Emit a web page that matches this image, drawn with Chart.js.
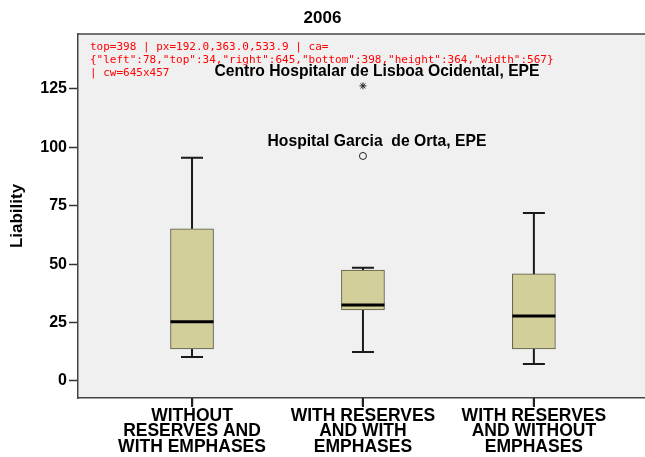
<!DOCTYPE html>
<html>
<head>
<meta charset="utf-8">
<script src="https://cdn.jsdelivr.net/npm/chart.js@4.4.0/dist/chart.umd.min.js"></script>
<style>
    body { margin: 0; background: #ffffff; }
</style>
</head>
<body>
<canvas id="box-chart" width="645" height="457"></canvas>
<div id="dbg" style="position:absolute;left:90px;top:40px;width:300px;font:11px monospace;color:red"></div>
<script>
//////////////////////////////// Daten /////////////////////////////////////////

var groups = [                       // Kategorien (mehrzeilig)
    ["WITHOUT", "RESERVES AND", "WITH EMPHASES"],
    ["WITH RESERVES", "AND WITH", "EMPHASES"],
    ["WITH RESERVES", "AND WITHOUT", "EMPHASES"]
];
var whiskerLow  = [10.3, 12.4, 7.3];
var quart1      = [13.7, 30.4, 13.7];
var median      = [25.3, 32.5, 27.8];
var quart3      = [65.1, 47.5, 45.8];
var whiskerHigh = [95.5, 48.4, 71.9];

var outlierGroup = [1, 1];
var outlierValue = [126.3, 96.3];
var outlierStyle = ["star", "circle"];
var outlierName  = ["Centro Hospitalar de Lisboa Ocidental, EPE", "Hospital Garcia  de Orta, EPE"];

var yTicks = [0, 25, 50, 75, 100, 125];

var fontFam = "'Liberation Sans', Arial, sans-serif";
var dbgInfo = [];

//////////////////////////////// Plugin fuer Whisker, Median, Rahmen ////////////

var boxPlugin = {
    id: 'boxPlugin',
    beforeDraw: function(chart) {           // Hintergrund der Plotflaeche
        var a = chart.chartArea, ctx = chart.ctx;
        ctx.save();
        ctx.fillStyle = '#f0f0f0';
        ctx.fillRect(a.left, a.top, a.right - a.left, a.bottom - a.top);
        ctx.strokeStyle = '#444444';
        ctx.lineWidth = 1.5;
        ctx.beginPath();
        ctx.moveTo(a.left, a.top);
        ctx.lineTo(a.right, a.top);
        ctx.stroke();
        ctx.restore();
    },
    afterDatasetsDraw: function(chart) {
        var ctx = chart.ctx;
        var xs = chart.scales.x, ys = chart.scales.y;
        ctx.save();
        for (var i = 0; i < groups.length; i++) {
            var x = xs.getPixelForValue(i);
            var yLo = ys.getPixelForValue(whiskerLow[i]);
            var yQ1 = ys.getPixelForValue(quart1[i]);
            var yQ3 = ys.getPixelForValue(quart3[i]);
            var yHi = ys.getPixelForValue(whiskerHigh[i]);
            var yMed = ys.getPixelForValue(median[i]);
            ctx.strokeStyle = '#1a1a1a';
            ctx.lineWidth = 2;
            ctx.beginPath();
            ctx.moveTo(x, yQ3); ctx.lineTo(x, yHi);
            ctx.moveTo(x - 11, yHi); ctx.lineTo(x + 11, yHi);
            ctx.moveTo(x, yQ1); ctx.lineTo(x, yLo);
            ctx.moveTo(x - 11, yLo); ctx.lineTo(x + 11, yLo);
            ctx.stroke();
            ctx.lineWidth = 3;
            ctx.strokeStyle = '#000000';
            ctx.beginPath();
            ctx.moveTo(x - 21.5, yMed); ctx.lineTo(x + 21.5, yMed);
            ctx.stroke();
        }
        // Beschriftung der Ausreisser
        ctx.fillStyle = '#000000';
        ctx.font = 'bold 15.7px ' + fontFam;
        ctx.textAlign = 'center';
        ctx.textBaseline = 'middle';
        for (var j = 0; j < outlierName.length; j++) {
            var px = xs.getPixelForValue(outlierGroup[j]);
            var py = ys.getPixelForValue(outlierValue[j]);
            ctx.fillText(outlierName[j], px + 14, py - 14);
        }
        ctx.restore();
    },
    afterDraw: function(chart) {            // Teilstriche der x-Achse
        var ctx = chart.ctx, xs = chart.scales.x;
        ctx.save();
        ctx.setTransform(1, 0, 0, 1, 0, 0);
        ctx.globalAlpha = 1;
        ctx.globalCompositeOperation = 'source-over';
        ctx.setLineDash([]);
        ctx.strokeStyle = '#222222';
        ctx.lineWidth = 2;
        ctx.beginPath();
        for (var i = 0; i < groups.length; i++) {
            var x = Math.round(xs.getPixelForValue(i));
            ctx.moveTo(x, xs.top);
            ctx.lineTo(x, xs.top + 9);
        }
        ctx.stroke();
        ctx.restore();
        dbgInfo = ['top=' + xs.top, 'px=' + [0, 1, 2].map(function(v) { return xs.getPixelForValue(v).toFixed(1); }).join(','),
                   'ca=' + JSON.stringify(chart.chartArea), 'cw=' + chart.canvas.width + 'x' + chart.canvas.height];
    }
};

//////////////////////////////// Diagramm ////////////////////////////////////////

var boxChart = new Chart(document.getElementById("box-chart"), {
    type: 'bar',
    data: {
        datasets: [{
            type: 'bar',
            data: quart1.map(function(q, i) { return { x: i, y: [q, quart3[i]] }; }),
            backgroundColor: '#d3cf9b',
            borderColor: '#55553f',
            borderWidth: 1,
            borderSkipped: false,
            barThickness: 43
        }, {
            type: 'line',
            showLine: false,
            data: outlierValue.map(function(v, i) { return { x: outlierGroup[i], y: v }; }),
            pointStyle: outlierStyle,
            pointRadius: 3.5,
            pointBorderColor: '#222222',
            pointBackgroundColor: 'rgba(0,0,0,0)',
            pointBorderWidth: 1
        }]
    },
    options: {
        responsive: false,
        animation: false,
        layout: { padding: 0, autoPadding: false },
        plugins: {
            legend: { display: false },
            tooltip: { enabled: false },
            title: {
                display: true,
                text: '2006',
                color: '#000000',
                font: { family: fontFam, size: 17, weight: 'bold' },
                padding: { top: 8, bottom: 5.6 }
            }
        },
        scales: {
            x: {
                type: 'linear',
                offset: false,
                min: -0.667,
                max: 2.65,
                afterBuildTicks: function(scale) {
                    scale.ticks = groups.map(function(g, i) { return { value: i }; });
                },
                afterFit: function(scale) {
                    scale.height = 59;
                    scale.paddingLeft = 0;
                    scale.paddingRight = 0;
                },
                ticks: {
                    autoSkip: false,
                    maxRotation: 0,
                    padding: 2,
                    color: '#000000',
                    font: { family: fontFam, size: 17.5, weight: 'bold', lineHeight: 0.89 },
                    callback: function(value) { return groups[value]; }
                },
                grid: { offset: false, drawOnChartArea: false, tickLength: 8, color: '#333333', tickWidth: 1.5 },
                border: { color: '#444444', width: 1.5 }
            },
            y: {
                min: -7.3,
                max: 148.5,
                afterBuildTicks: function(scale) {
                    scale.ticks = yTicks.map(function(v) { return { value: v }; });
                },
                afterFit: function(scale) { scale.width = 78; },
                ticks: {
                    padding: 2,
                    color: '#000000',
                    font: { family: fontFam, size: 16, weight: 'bold' }
                },
                grid: { drawOnChartArea: false, tickLength: 9, color: '#333333', tickWidth: 1.5 },
                border: { color: '#444444', width: 1.5 },
                title: {
                    display: true,
                    text: 'Liability',
                    color: '#000000',
                    font: { family: fontFam, size: 17, weight: 'bold' },
                    padding: { top: 7, bottom: 0 }
                }
            }
        }
    },
    plugins: [boxPlugin]
});
document.getElementById('dbg').textContent = dbgInfo.join(' | ');
</script>
</body>
</html>
